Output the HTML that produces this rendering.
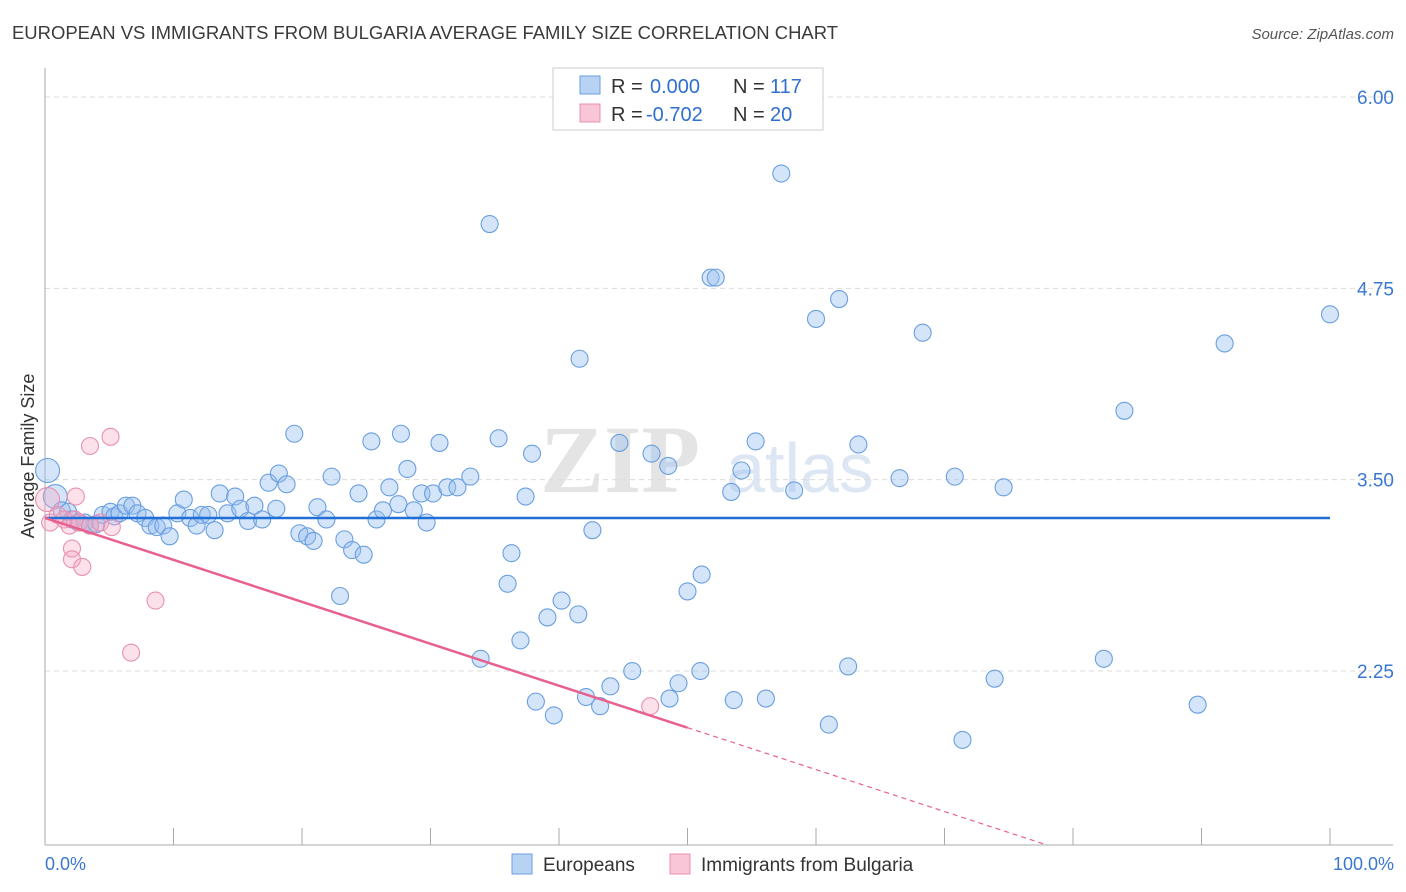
<!DOCTYPE html>
<html><head><meta charset="utf-8"><style>
body{margin:0;background:#fff;font-family:"Liberation Sans",sans-serif;}
svg{display:block}
</style></head><body>
<svg width="1406" height="892" viewBox="0 0 1406 892">
<text x="12" y="39" font-size="18" fill="#3a3a3a" textLength="826" lengthAdjust="spacingAndGlyphs">EUROPEAN VS IMMIGRANTS FROM BULGARIA AVERAGE FAMILY SIZE CORRELATION CHART</text>
<text x="1394" y="39" font-size="15" fill="#555" text-anchor="end" font-style="italic">Source: ZipAtlas.com</text>
<text x="620" y="492" font-size="96" fill="#e4e4e4" font-family="Liberation Serif,serif" font-weight="bold" text-anchor="middle">ZIP</text>
<text x="800" y="492" font-size="70" fill="#dde6f3" text-anchor="middle">atlas</text>
<g id="grid"></g>
<g id="axes"></g>
<g id="points"></g>
<g id="trends"></g>
<text x="34" y="456" font-size="18" fill="#333" text-anchor="middle" transform="rotate(-90 34 456)">Average Family Size</text>
<text x="45" y="870" font-size="18" fill="#3a78d0">0.0%</text>
<text x="1394" y="870" font-size="18" fill="#3a78d0" text-anchor="end">100.0%</text>
<g>
<rect x="553" y="68" width="270" height="62" fill="#fff" stroke="#ccc"/>
<rect x="580" y="76" width="20" height="18" fill="#b8d2f4" stroke="#6a9fe0"/>
<rect x="580" y="104" width="20" height="18" fill="#f8c6d6" stroke="#e890b0"/>
<text x="611" y="93" font-size="20" fill="#333">R =</text>
<text x="650" y="93" font-size="20" fill="#2f6fd0">0.000</text>
<text x="733" y="93" font-size="20" fill="#333">N =</text>
<text x="770" y="93" font-size="20" fill="#2f6fd0">117</text>
<text x="611" y="121" font-size="20" fill="#333">R =</text>
<text x="646" y="121" font-size="20" fill="#2f6fd0">-0.702</text>
<text x="733" y="121" font-size="20" fill="#333">N =</text>
<text x="770" y="121" font-size="20" fill="#2f6fd0">20</text>
</g>
<g>
<rect x="512" y="854" width="20" height="20" fill="#b8d2f4" stroke="#6a9fe0"/>
<text x="543" y="871" font-size="19" fill="#333">Europeans</text>
<rect x="670" y="854" width="20" height="20" fill="#f8c6d6" stroke="#e890b0"/>
<text x="701" y="871" font-size="19" fill="#333">Immigrants from Bulgaria</text>
</g>
</svg>
<script>
const yTicks=[6.00,4.75,3.50,2.25];
const yTickLabels=["6.00","4.75","3.50","2.25"];
const xTicks=[0,10,20,30,40,50,60,70,80,90,100];
const blueX=[0.2,0.8,1.3,1.8,2.1,2.6,3.1,3.5,4.0,4.5,5.1,5.4,5.8,6.3,6.8,7.2,7.8,8.2,8.7,9.2,9.7,10.3,10.8,11.3,11.8,12.2,12.7,13.2,13.6,14.2,14.8,15.2,15.8,16.3,16.9,17.4,18.0,18.2,18.8,19.4,19.8,20.4,20.9,21.2,21.9,22.3,22.96,23.3,23.9,24.4,24.8,25.4,25.8,26.3,26.8,27.5,27.7,28.2,28.7,29.3,29.7,30.2,30.7,31.3,32.1,33.1,33.9,34.6,35.3,36.0,36.3,37.0,37.4,37.9,38.2,39.1,39.6,40.2,41.5,41.6,42.1,42.6,43.2,44.0,44.7,45.7,47.2,48.5,48.6,49.3,50.0,51.0,51.1,51.8,52.2,53.4,53.6,54.2,55.3,56.1,57.3,58.3,60.0,61.0,61.8,62.5,63.3,66.5,68.3,70.8,71.4,73.9,74.6,82.4,84.0,89.7,91.8,100];
const blueY=[3.56,3.39,3.30,3.29,3.24,3.22,3.22,3.20,3.21,3.27,3.29,3.26,3.28,3.33,3.33,3.28,3.25,3.20,3.19,3.20,3.13,3.28,3.37,3.25,3.20,3.27,3.27,3.17,3.41,3.28,3.39,3.31,3.23,3.33,3.24,3.48,3.31,3.54,3.47,3.80,3.15,3.13,3.10,3.32,3.24,3.52,2.74,3.11,3.04,3.41,3.01,3.75,3.24,3.30,3.45,3.34,3.80,3.57,3.30,3.41,3.22,3.41,3.74,3.45,3.45,3.52,2.33,5.17,3.77,2.82,3.02,2.45,3.39,3.67,2.05,2.60,1.96,2.71,2.62,4.29,2.08,3.17,2.02,2.15,3.74,2.25,3.67,3.59,2.07,2.17,2.77,2.25,2.88,4.82,4.82,3.42,2.06,3.56,3.75,2.07,5.50,3.43,4.55,1.90,4.68,2.28,3.73,3.51,4.46,3.52,1.80,2.20,3.45,2.33,3.95,2.03,4.39,4.58];
const pinkX=[0.2,0.4,1.0,1.5,1.9,2.3,2.7,3.5,4.3,5.2,2.4,2.1,2.1,2.9,5.1,3.5,8.6,6.7,47.1];
const pinkY=[3.37,3.22,3.27,3.24,3.20,3.24,3.22,3.20,3.22,3.19,3.39,3.05,2.98,2.93,3.78,3.72,2.71,2.37,2.02];
const blueTrend=[3.25,3.25];
const pinkTrend=[3.25,1.88];
const NS="http://www.w3.org/2000/svg";
const X0=45,X1=1330,YB=845;
function sx(p){return X0+(X1-X0)*p/100;}
function sy(v){return 97+(6-v)*153.07;}
function mk(tag,attrs,parent){const e=document.createElementNS(NS,tag);for(const k in attrs)e.setAttribute(k,attrs[k]);document.getElementById(parent).appendChild(e);return e;}
yTicks.forEach((v,i)=>{
 const l=mk('line',{x1:X0,x2:1393,y1:sy(v),y2:sy(v),stroke:'#dcdcdc','stroke-dasharray':'5,4'},'grid');
 
 
 const t=mk('text',{x:1394,y:sy(v)+7,'font-size':19,fill:'#3a78d0','text-anchor':'end'},'grid');
 t.textContent=yTickLabels[i];
 
 
});
const ax=mk('line',{x1:X0,x2:X0,y1:68,y2:YB,stroke:'#aaa'},'axes');


const bx=mk('line',{x1:X0,x2:1393,y1:YB,y2:YB,stroke:'#aaa'},'axes');


xTicks.forEach(p=>{
 const t=mk('line',{x1:sx(p),x2:sx(p),y1:828,y2:YB,stroke:'#aaa'},'axes');
 
 
});
blueX.forEach((p,i)=>{
 const r=(i<2)?12:8.5;
 const c=mk('circle',{cx:sx(p),cy:sy(blueY[i]),r:r,fill:'rgba(150,190,240,0.4)',stroke:'#6a9fe0','stroke-width':1.1},'points');
 
 
});
pinkX.forEach((p,i)=>{
 const r=(i==0)?12:8.5;
 const c=mk('circle',{cx:sx(p),cy:sy(pinkY[i]),r:r,fill:'rgba(245,170,195,0.35)',stroke:'#e890b0','stroke-width':1.1},'points');
 
 
});
const bt=mk('line',{x1:sx(0),x2:sx(100),y1:sy(blueTrend[0]),y2:sy(blueTrend[1]),stroke:'#1f6fd6','stroke-width':2.5},'trends');


const pt=mk('line',{x1:sx(0),x2:sx(50),y1:sy(pinkTrend[0]),y2:sy(pinkTrend[1]),stroke:'#e8618e','stroke-width':2.5},'trends');


const slope=(pinkTrend[1]-pinkTrend[0])/50;
const vb=6-(YB-97)/153.07;
const xe=(vb-pinkTrend[0])/slope;
const pd=mk('line',{x1:sx(50),x2:sx(xe),y1:sy(pinkTrend[1]),y2:YB,stroke:'#e8618e','stroke-width':1.2,'stroke-dasharray':'5,4'},'trends');


</script>
</body></html>
